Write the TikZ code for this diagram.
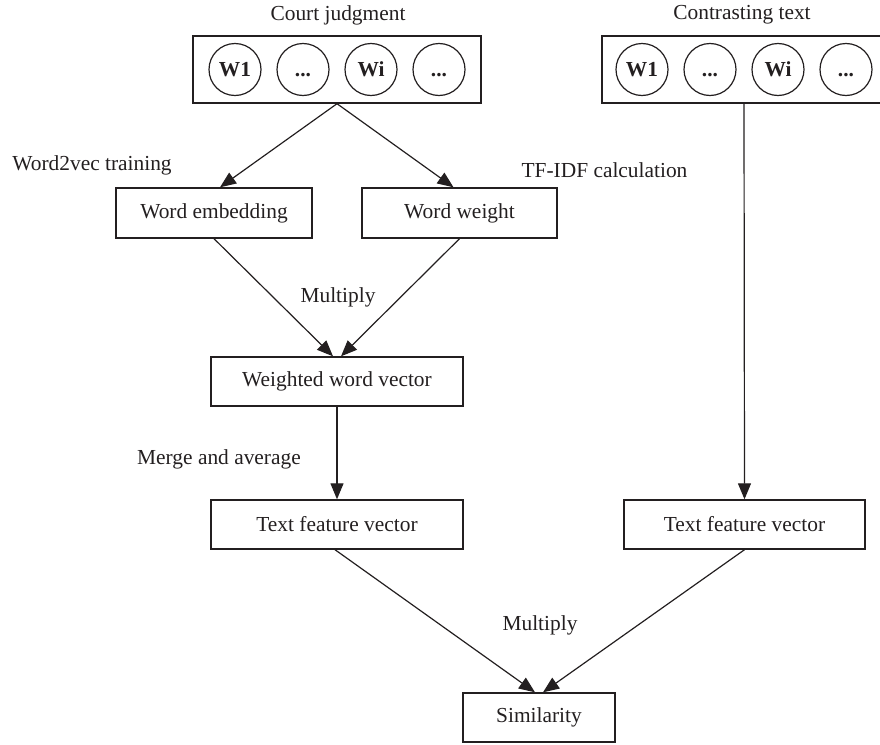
\documentclass[tikz,border=0pt]{standalone}
\usepackage{fontspec}
\setmainfont{Liberation Serif}
\usetikzlibrary{arrows.meta}
\definecolor{ink}{HTML}{231F20}
\begin{document}
\begin{tikzpicture}[x=1pt,y=-1pt,
  font=\fontsize{21.4}{25}\selectfont, text=ink,
  box/.style={draw=ink, line width=1.4pt, inner sep=0pt, minimum height=50pt},
  word/.style={draw=ink, line width=1.2pt, circle, inner sep=0pt, minimum size=52pt, text height=14pt, text depth=0pt, font=\fontsize{21.4}{25}\selectfont\bfseries},
  lbl/.style={inner sep=0pt},
  conn/.style={draw=ink, line width=1.2pt},
  arr/.style={conn, -{Triangle[length=16pt,width=13pt]}}]
\useasboundingbox (0,0) rectangle (880,744);
\clip (0,0) rectangle (880,744);

% titles
\node[lbl] (t1) at (338,15) {Court judgment};
\node[lbl] (t2) at (742,15) {Contrasting text};

% word container boxes
\node[box, minimum width=288pt, minimum height=67pt] (court) at (337,69.5) {};
\node[box, minimum width=284pt, minimum height=67pt] (contr) at (744,69.5) {};

\node[word] (c1) at (235,69.5) {W1};
\node[word] (c2) at (303,69.5) {...};
\node[word] (c3) at (371,69.5) {Wi};
\node[word] (c4) at (439,69.5) {...};

\node[word] (d1) at (642,69.5) {W1};
\node[word] (d2) at (710,69.5) {...};
\node[word] (d3) at (778,69.5) {Wi};
\node[word] (d4) at (846,69.5) {...};

% process boxes
\node[box, minimum width=196pt] (we) at (214,213) {Word embedding};
\node[box, minimum width=195pt] (ww) at (459.5,213) {Word weight};
\node[box, minimum width=252pt, minimum height=49pt] (wwv) at (337,381.5) {Weighted word vector};
\node[box, minimum width=252pt, minimum height=49pt] (tf1) at (337,524.5) {Text feature vector};
\node[box, minimum width=241pt, minimum height=49pt] (tf2) at (744.5,524.5) {Text feature vector};
\node[box, minimum width=152pt, minimum height=49pt] (sim) at (539,717.5) {Similarity};

% labels
\node[lbl] (l1) at (92,165) {Word2vec training};
\node[lbl] (l2) at (604.5,170) {TF-IDF calculation};
\node[lbl] (l3) at (338,297) {Multiply};
\node[lbl] (l4) at (219,459) {Merge and average};
\node[lbl] (l5) at (540,625) {Multiply};

% connectors
\draw[arr] (court.south) -- ([xshift=6pt]we.north);
\draw[arr] (court.south) -- ([xshift=-6pt]ww.north);
\draw[arr] (we.south) -- ([xshift=-4pt]wwv.north);
\draw[arr] (ww.south) -- ([xshift=4pt]wwv.north);
\draw[arr] (wwv.south) -- (tf1.north);
\draw[arr] (contr.south) -- (tf2.north);
\draw[arr] ([xshift=-2pt]tf1.south) -- ([xshift=-4pt]sim.north);
\draw[arr] (tf2.south) -- ([xshift=4pt]sim.north);
\end{tikzpicture}
\end{document}
